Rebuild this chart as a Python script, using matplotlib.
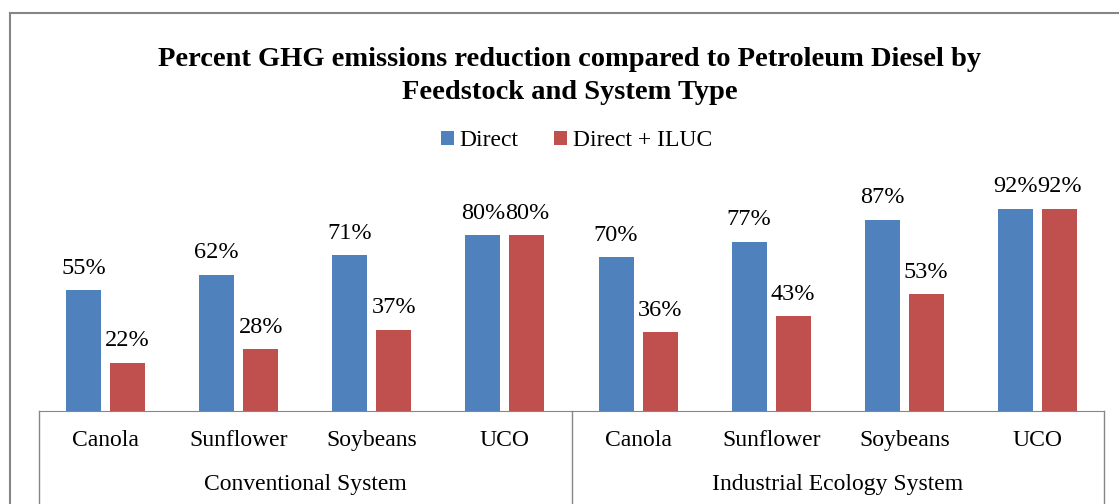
import matplotlib.pyplot as plt
from matplotlib.lines import Line2D
import numpy as np

plt.rcParams['font.family'] = ['Liberation Serif', 'DejaVu Serif']

# data
feedstocks = ['Canola', 'Sunflower', 'Soybeans', 'UCO',
              'Canola', 'Sunflower', 'Soybeans', 'UCO']
systems = ['Conventional System', 'Industrial Ecology System']
direct = [55, 62, 71, 80, 70, 77, 87, 92]
direct_iluc = [22, 28, 37, 80, 36, 43, 53, 92]

blue = '#4F81BD'
red = '#C0504D'
grey = '#868686'

fig = plt.figure(figsize=(11.19, 5.04), dpi=100)
ax = fig.add_axes([39 / 1119, 93 / 504, 1065 / 1119, 220 / 504])

x = np.arange(len(feedstocks))
w = 0.263
off = 0.165
b1 = ax.bar(x - off, direct, w, color=blue, label='Direct')
b2 = ax.bar(x + off, direct_iluc, w, color=red, label='Direct + ILUC')

for bars in (b1, b2):
    for b in bars:
        ax.annotate(f'{int(b.get_height())}%', (b.get_x() + b.get_width() / 2, b.get_height()),
                    xytext=(0, 8), textcoords='offset points', ha='center', va='bottom',
                    fontsize=17.5)

ax.set_xlim(-0.5, 7.5)
ax.set_ylim(0, 100)
ax.set_yticks([])
ax.set_xticks([])
for s in ['top', 'right', 'left']:
    ax.spines[s].set_visible(False)
ax.spines['bottom'].set_color(grey)

# multi-level category axis
trans = ax.get_xaxis_transform()
for xv in [-0.5, 3.5, 7.5]:
    ax.plot([xv, xv], [0, -0.45], transform=trans, color=grey, lw=1, clip_on=False)
for i, name in enumerate(feedstocks):
    ax.text(i, -0.132, name, transform=trans, ha='center', va='center', fontsize=17)
for j, name in enumerate(systems):
    ax.text(1.5 + 4 * j, -0.336, name, transform=trans, ha='center', va='center', fontsize=17)

# outer chart frame (left and top edges visible)
fig.add_artist(Line2D([10 / 1119, 10 / 1119], [0, 1 - 13 / 504], transform=fig.transFigure, color=grey, lw=1.5))
fig.add_artist(Line2D([10 / 1119, 1], [1 - 13 / 504, 1 - 13 / 504], transform=fig.transFigure, color=grey, lw=1.5))

fig.text(0.509, 1 - 76 / 504,
         'Percent GHG emissions reduction compared to Petroleum Diesel by\nFeedstock and System Type',
         ha='center', va='center', fontsize=20.5, fontweight='bold', linespacing=1.4)

fig.legend(handles=[b1, b2], loc='center', bbox_to_anchor=(0.515, 1 - 141 / 504), ncol=2,
           frameon=False, fontsize=17, handlelength=0.55, handleheight=0.55,
           handletextpad=0.25, columnspacing=1.5)

fig.savefig('out.png', dpi=100)
